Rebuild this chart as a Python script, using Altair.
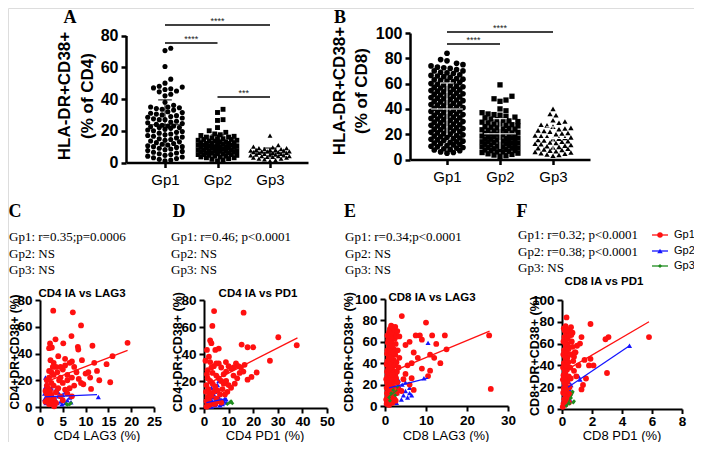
import altair as alt
import pandas as pd

M = 8
W, H = 686, 434
FONT = "Liberation Sans"
SERIF = "Liberation Serif"
RED, BLUE, GREEN = "#ff1010", "#1515ff", "#1e8c1e"


def P(v):
    return v - M

# ---------------- data: panel A (HLA-DR+CD38+ % of CD4) ----------------
A_gp1 = [72, 70.5, 60.5, 52.5, 50, 48, 47.5, 47, 46.5, 46, 45, 44.5, 43, 42, 38, 36, 35, 35,
         34.5, 34, 33.5, 33, 32, 31.5, 31, 30.5, 30, 29.5, 29, 28.5, 28, 27.5, 27, 27, 26, 25.5,
         25, 24.5, 24, 23.5, 23, 23, 22.5, 22, 22, 21.5, 21, 20.5, 20, 19.5, 19, 18.5, 18, 17.5,
         17, 16.5, 16, 15.5, 15, 14.5, 14, 13.5, 13, 12.5, 12, 11.5, 11, 10.5, 10, 10, 9.5, 9,
         8.5, 8, 7.5, 7, 6.5, 6, 5.5, 5, 4.5, 4, 3.5, 3, 2.5, 2, 1.5, 1]
A_gp2 = [33.5, 31.5, 27, 26.5, 22, 20, 19, 18, 17.5, 17, 16.5, 16, 16, 15.5, 15, 15, 14.5,
         14.5, 14, 14, 13.5, 13.5, 13, 13, 12.5, 12.5, 12, 12, 12, 11.5, 11.5, 11, 11, 11, 10.5,
         10.5, 10, 10, 10, 9.5, 9.5, 9, 9, 9, 8.5, 8.5, 8, 8, 8, 7.5, 7.5, 7, 7, 7, 6.5, 6.5, 6,
         6, 6, 5.5, 5.5, 5, 5, 5, 4.5, 4.5, 4, 4, 3.5, 3.5, 3, 3, 2.5, 2, 1.5, 1]
A_gp3 = [17, 11, 10, 9.5, 9, 9, 8.5, 8.5, 8, 8, 8, 7.5, 7.5, 7, 7, 7, 6.5, 6.5, 6, 6, 6, 5.5,
         5.5, 5, 5, 5, 4.5, 4.5, 4, 4, 4, 3.5, 3.5, 3, 3, 2.5, 2.5, 2, 1.5, 1]
A_sig_from = [1, 1, 2]
A_sig_to = [3, 2, 3]
A_sig_y = [86.6, 75.3, 41.3]
A_sig_lab = ["****", "****", "***"]

# ---------------- data: panel B (HLA-DR+CD38+ % of CD8) ----------------
B_gp1 = [84, 79, 78, 76, 75, 74, 73, 72.5, 72, 71, 70, 70, 69, 68.5, 68, 67, 66, 65.5, 65, 64,
         63.5, 63, 62, 61.5, 61, 60, 59.5, 59, 58, 57.5, 57, 56, 55.5, 55, 54, 53.5, 53, 52,
         51.5, 51, 50, 49.5, 49, 48, 47.5, 47, 46, 45.5, 45, 44, 43.5, 43, 42, 41.5, 41, 40,
         39.5, 39, 38, 37.5, 37, 36, 35.5, 35, 34, 33.5, 33, 32, 31.5, 31, 30, 29.5, 29, 28,
         27.5, 27, 26, 25.5, 25, 24, 23.5, 23, 22, 21.5, 21, 20, 19.5, 19, 18, 17.5, 17, 16,
         15.5, 15, 14, 13.5, 13, 12, 11.5, 11, 10, 9.5, 9, 8, 7.5, 7, 6, 5.5, 5,
         66.5, 62.5, 58.5, 54.5, 50.5, 46.5, 42.5, 38.5, 34.5, 30.5, 26.5, 22.5, 18.5, 14.5,
         10.5, 8.5, 12.5, 16.5, 20.5, 24.5, 28.5, 32.5, 36.5, 40.5, 44.5, 48.5, 52.5, 56.5]
B_gp2 = [59, 50, 48, 47, 46, 40, 38.5, 37, 36, 35.5, 35, 34, 33.5, 33, 32, 31.5, 31, 30, 29.5,
         29, 28, 27.5, 27, 26, 25.5, 25, 24.5, 24, 23.5, 23, 22.5, 22, 21.5, 21, 20.5, 20, 19.5,
         19, 18.5, 18, 17.5, 17, 16.5, 16, 15.5, 15, 14.5, 14, 13.5, 13, 12.5, 12, 11.5, 11,
         10.5, 10, 9.5, 9, 8.5, 8, 7.5, 7, 6.5, 6, 5.5, 5, 4.5, 4, 3.5, 3, 2.5,
         30.5, 26.5, 22, 19, 16, 13, 10, 8, 6, 12, 18, 24, 28, 15, 11, 9, 7, 20, 17, 14]
B_gp3 = [40, 36, 35, 31, 30, 29, 27.5, 27, 26, 25, 24.5, 24, 23, 22.5, 22, 21, 20.5, 20, 19,
         18.5, 18, 17.5, 17, 16.5, 16, 15.5, 15, 14.5, 14, 13.5, 13, 12.5, 12, 11.5, 11, 10.5,
         10, 9.5, 9, 8.5, 8, 7.5, 7, 6.5, 6, 5.5, 5, 4.5, 4, 3.5, 3]
B_sig_from = [1, 1]
B_sig_to = [3, 2]
B_sig_y = [100.8, 91.3]
B_sig_lab = ["****", "****"]

# ---------------- data: panel C (CD4 IA vs LAG3) ----------------
C_red = [(2.9, 72), (7.2, 70.8), (9.0, 61), (6.9, 53), (3.4, 50.6), (2.2, 47.5), (2.6, 44.5),
         (2.0, 44), (5.1, 47.6), (8.3, 45), (8.4, 43), (11.5, 45.8), (19.2, 48), (15.9, 38),
         (14.6, 32), (11.9, 33), (9.2, 35), (2.3, 35), (15.4, 18.5), (11.2, 13.5), (10.6, 26),
         (3.1, 0.5), (6.5, 33), (7, 34), (5.5, 31), (7.5, 30), (8, 26), (5, 28), (6, 24),
         (4.5, 22), (6, 20), (7, 22), (9, 18), (8.5, 21), (7.5, 16), (6.5, 14), (9.5, 17),
         (10, 25), (11, 22), (12.5, 27), (13, 20), (4, 38), (4.5, 30), (5.5, 36), (3, 33),
         (3.5, 30), (2.5, 26), (3, 24), (1.5, 20), (2, 22), (2.5, 18), (3, 16), (1.8, 14),
         (2.2, 12), (1.5, 10), (2.5, 9), (3.5, 11), (4, 14), (4.5, 8), (3, 6), (2, 5), (2.5, 3),
         (1.7, 7), (1.2, 12), (1.5, 16), (2, 27), (2.8, 30), (3.8, 26), (4.2, 20), (5, 18),
         (5.5, 13), (6, 10), (7, 8), (5, 5), (3.5, 3), (2, 2), (1.2, 4)]
C_blue = [(1.2, 22), (1.5, 18), (1.2, 15), (1.8, 12), (1, 10), (1.5, 8), (1, 6), (2, 5),
          (2.5, 4), (3, 7), (3.5, 5), (4, 8), (4.5, 4), (5, 6), (5.5, 3), (6, 5), (6.5, 7),
          (4, 11), (3.5, 13), (2.5, 14), (1.3, 3), (2, 9), (3, 2), (5, 9), (12.8, 7.5),
          (5.5, 11), (4.8, 2), (6.8, 3.5), (3.8, 3)]
C_green = [(6.5, 2), (6.0, 1.5), (6.8, 3), (5.8, 2.5)]
C_red_fit = [(2.0, 19.7), (19.2, 42.4)]
C_blue_fit = [(1.0, 7.5), (12.5, 9.2)]
C_green_fit = [(5.5, 2.5), (6.8, 1.8)]

# ---------------- data: panel D (CD4 IA vs PD1) ----------------
D_red = [(4.1, 71.8), (16.1, 70.6), (3.4, 60.8), (2.5, 50), (3, 48), (15.3, 47), (17.7, 45),
         (20, 45), (30.2, 52.4), (37.7, 46.5), (26.8, 35), (1.2, 43), (4.6, 43), (6, 44),
         (8.9, 34), (21.4, 26.3), (17.7, 21), (19.3, 23), (13, 33), (14, 31), (15, 30),
         (16.5, 32), (12, 30), (10, 31), (11, 29), (9, 27), (8, 25), (7, 30), (6, 33), (5, 33),
         (4, 31), (3, 30), (2.5, 34), (2, 38), (1.5, 28), (3.5, 26), (5, 24), (6, 22), (7, 20),
         (8, 18), (9, 20), (10, 17), (11, 15), (12, 24), (14.5, 26), (16, 27), (13.5, 22),
         (12.5, 18), (9.5, 12), (8.5, 10), (7.5, 14), (6.5, 10), (5.5, 13), (4.5, 16),
         (3.5, 18), (2.5, 20), (1.5, 22), (1, 17), (1.8, 14), (2.2, 11), (1.5, 8), (1, 5),
         (2, 6), (3, 9), (4, 12), (5, 7), (6, 5), (7, 4), (3, 3), (2, 2), (1, 1), (4.5, 3),
         (0.8, 12), (1.2, 25), (0.6, 35)]
D_blue = [(6, 20), (5.5, 17), (5, 15), (4.5, 12), (4, 10), (3.5, 8), (3, 6), (2.5, 4), (2, 2),
          (1.5, 5), (1, 3), (1.5, 9), (2, 11), (2.5, 13), (3, 15), (6, 8), (7, 6), (8, 5),
          (9, 4), (7.5, 3), (6.5, 2), (5, 3), (4, 4), (3, 1), (8.5, 7), (9, 6.5), (1, 7),
          (0.8, 1.5), (5.5, 6), (4.5, 2)]
D_green = [(10.5, 4), (11.5, 3.5), (9.5, 3), (11, 5)]
D_red_fit = [(0.5, 17), (38, 52)]
D_blue_fit = [(1, 4), (9, 7)]
D_green_fit = [(9.5, 3.5), (11.5, 4.5)]

# ---------------- data: panel E (CD8 IA vs LAG3) ----------------
E_red = [(0.4, 2), (0.7, 4), (1.0, 1), (1.3, 6), (0.6, 8), (1.8, 3), (2.2, 7), (0.9, 9),
         (1.5, 10), (2.6, 5), (0.3, 6), (1.1, 3), (0.5, 12), (0.8, 15), (1.2, 11), (1.6, 14),
         (2.0, 18), (2.4, 13), (0.4, 17), (1.0, 19), (1.4, 16), (2.8, 12), (3.2, 16), (0.7, 20),
         (1.9, 12), (0.5, 22), (0.9, 25), (1.3, 21), (1.7, 27), (2.1, 23), (2.5, 29), (0.6, 28),
         (1.1, 24), (1.5, 26), (3.0, 22), (2.7, 26), (0.3, 25), (1.9, 29), (0.5, 32), (0.8, 35),
         (1.2, 31), (1.6, 37), (2.0, 33), (2.4, 38), (0.4, 39), (1.0, 34), (1.4, 36), (2.9, 32),
         (3.3, 36), (1.8, 30), (2.2, 39), (0.6, 42), (0.9, 45), (1.3, 41), (1.7, 47), (2.1, 43),
         (2.5, 48), (0.5, 49), (1.1, 44), (1.5, 46), (2.8, 41), (3.5, 45), (1.9, 49), (0.6, 52),
         (1.0, 55), (1.4, 51), (1.8, 57), (2.2, 53), (2.6, 58), (0.7, 59), (1.2, 54), (1.6, 56),
         (3.1, 52), (2.0, 50), (0.8, 62), (1.2, 65), (1.6, 61), (2.0, 67), (2.4, 63), (1.0, 69),
         (1.4, 64), (2.8, 66), (0.6, 66), (1.8, 69), (1.2, 72), (1.8, 74), (2.4, 71), (1.5, 75),
         (2.1, 73), (4.1, 84), (10, 78), (25.4, 66), (25.8, 16), (14.6, 66), (15, 53),
         (12.5, 58), (11.5, 66), (8.5, 66), (7.5, 66), (9, 62), (6, 60), (5, 57), (7, 50),
         (8, 45), (11, 48), (12, 45), (13.5, 40), (11, 33), (10.5, 28), (9, 35), (6.5, 40),
         (5.5, 38), (5, 30), (4.5, 25), (6, 20), (4, 14), (7, 15), (6.5, 26), (3, 70),
         (2.5, 74), (3.5, 65)]
E_blue = [(0.5, 5), (0.8, 10), (1.2, 15), (1.5, 20), (2, 25), (2.5, 8), (3, 12), (3.5, 18),
          (4, 6), (4.5, 10), (5, 14), (5.5, 8), (6, 12), (1, 30), (1.5, 35), (0.7, 40),
          (2.2, 30), (3.3, 24), (4.2, 20), (5, 22), (6.5, 10), (0.3, 2), (1.8, 4), (2.8, 3),
          (10.5, 59), (9.5, 26), (6, 17), (1.2, 45), (0.9, 50)]
E_green = [(1, 8), (1.5, 12), (2, 15), (2.5, 10), (3, 18), (1.2, 5)]
E_red_fit = [(1.0, 31), (25.5, 70)]
E_blue_fit = [(1.0, 17), (10.5, 26)]
E_green_fit = [(1.0, 9), (3.0, 15)]

# ---------------- data: panel F (CD8 IA vs PD1) ----------------
F_red = [(0.3, 84), (1.9, 78), (5.8, 66), (3.1, 66), (2.9, 64), (1.3, 66), (1.2, 60),
         (1.0, 58), (1.5, 45), (1.8, 40), (2.1, 40), (1.9, 46), (3.0, 33), (1.6, 28),
         (1.4, 22), (1.3, 18), (0.9, 52), (0.8, 48), (0.7, 70), (0.6, 75), (0.5, 72),
         (0.05, 2), (0.1, 5), (0.15, 9), (0.2, 4), (0.25, 12), (0.3, 7), (0.08, 15), (0.12, 19),
         (0.18, 14), (0.22, 22), (0.28, 17), (0.35, 25), (0.4, 11), (0.06, 27), (0.1, 31),
         (0.16, 24), (0.21, 33), (0.27, 29), (0.33, 36), (0.45, 30), (0.5, 20), (0.07, 38),
         (0.13, 42), (0.19, 35), (0.24, 45), (0.3, 40), (0.36, 47), (0.42, 43), (0.55, 38),
         (0.09, 50), (0.14, 54), (0.2, 48), (0.26, 57), (0.32, 52), (0.38, 59), (0.44, 55),
         (0.6, 50), (0.1, 62), (0.16, 66), (0.22, 60), (0.28, 69), (0.34, 64), (0.4, 71),
         (0.48, 67), (0.65, 62), (0.12, 74), (0.18, 72), (0.24, 76), (0.3, 73), (0.7, 57),
         (0.75, 44), (0.8, 35), (0.58, 28), (0.52, 14), (0.46, 6), (0.62, 68), (0.85, 52),
         (1.1, 40), (0.95, 30)]
F_blue = [(0.05, 3), (0.1, 8), (0.15, 12), (0.2, 6), (0.25, 16), (0.3, 10), (0.35, 20),
          (0.4, 14), (0.45, 25), (0.5, 18), (0.1, 22), (0.2, 28), (0.3, 33), (0.15, 38),
          (0.25, 42), (0.55, 8), (1.2, 27), (1.1, 30), (4.5, 58), (0.45, 20), (0.6, 22)]
F_green = [(0.5, 5), (0.6, 10), (0.7, 16), (0.8, 7), (0.75, 6), (0.3, 3)]
F_red_fit = [(0.2, 35), (5.8, 80)]
F_blue_fit = [(0.4, 20), (4.5, 58)]
F_green_fit = [(0.3, 3), (0.8, 16)]


# ---------------- helpers ----------------
def xs(dom, a, b):
    return alt.Scale(domain=dom, range=[P(a), P(b)], nice=False, zero=False)


def ys(dom, bottom, top):
    return alt.Scale(domain=dom, range=[P(bottom), P(top)], nice=False, zero=False)


def xaxis(at_y, values, fs, bold, expr=None, tick=5, dw=2, pad=3):
    kw = dict(orient="bottom", offset=P(at_y) - H, values=values, title=None, grid=False,
              domainColor="black", domainWidth=dw, tickColor="black", tickWidth=dw,
              tickSize=tick, labelColor="black", labelFont=FONT, labelFontSize=fs,
              labelFontWeight="bold" if bold else "normal", labelPadding=pad, labelAngle=0,
              labelFlush=False, labelOverlap=False)
    if expr:
        kw["labelExpr"] = expr
    return alt.Axis(**kw)


def yaxis(at_x, values, fs, tick=5, dw=2, pad=3):
    return alt.Axis(orient="left", offset=-P(at_x), values=values, title=None, grid=False,
                    domainColor="black", domainWidth=dw, tickColor="black", tickWidth=dw,
                    tickSize=tick, labelColor="black", labelFont=FONT, labelFontSize=fs,
                    labelFontWeight="bold", labelPadding=pad, labelFlush=False,
                    labelOverlap=False)


def txt(s, x, y, size, font=FONT, weight="normal", align="center", angle=0,
        line_height=None):
    kw = dict(text=s, font=font, fontSize=size, fontWeight=weight, align=align,
              baseline="middle", color="black", angle=angle)
    if line_height:
        kw.update(lineBreak="\n", lineHeight=line_height)
    return alt.Chart(pd.DataFrame({"d": [0]})).mark_text(**kw).encode(
        x=alt.value(P(x)), y=alt.value(P(y)))


def swarm(vals, ppu_x, ppu_y, d, maxw):
    """Deterministic dot-plot spreading: nearest free slot, capped at +-maxw px."""
    order = sorted(range(len(vals)), key=lambda i: vals[i])
    placed = []
    offs = [0.0] * len(vals)
    step = d * 0.5
    cands = [0.0]
    j = 1
    while j * step <= maxw:
        cands += [j * step, -j * step]
        j += 1
    for i in order:
        yv = vals[i] * ppu_y
        near = [(a, b) for a, b in placed if abs(b - yv) < d]
        best, bestd = cands[0], -1
        chosen = None
        for c in cands:
            md = min([((c - a) ** 2 + (yv - b) ** 2) for a, b in near] or [1e9])
            if md >= 0.9 * d * d:
                chosen = c
                break
            if md > bestd:
                best, bestd = c, md
        if chosen is None:
            chosen = best
        placed.append((chosen, yv))
        offs[i] = chosen / ppu_x
    return offs


layers = []


def dot_panel(vals_list, shapes, sizes, xsc, ysc, xax, yax, ppu_x, ppu_y, sig, mean_color,
              maxw):
    first = True
    for k, (vals, shp, size) in enumerate(zip(vals_list, shapes, sizes)):
        d = 2 * (size / 3.14159) ** 0.5
        offs = swarm(vals, ppu_x, ppu_y, d, maxw)
        df = pd.DataFrame({"x": [k + 1 + o for o in offs], "y": vals})
        layers.append(alt.Chart(df).mark_point(shape=shp, filled=True, color="black",
                                               size=size, opacity=1).encode(
            x=alt.X("x:Q", scale=xsc, axis=xax if first else None),
            y=alt.Y("y:Q", scale=ysc, axis=yax if first else None)))
        first = False
        n = len(vals)
        mu = sum(vals) / n
        sd = (sum((v - mu) ** 2 for v in vals) / (n - 1)) ** 0.5
        eb = pd.DataFrame({"x": [k + 1 - 0.3, k + 1 - 0.13, k + 1],
                           "x2": [k + 1 + 0.3, k + 1 + 0.13, k + 1],
                           "y": [mu, mu + sd, max(mu - sd, 0)],
                           "y2": [mu, mu + sd, mu + sd]})
        layers.append(alt.Chart(eb).mark_rule(color=mean_color, strokeWidth=1.0).encode(
            x=alt.X("x:Q", scale=xsc, axis=None), x2="x2:Q",
            y=alt.Y("y:Q", scale=ysc, axis=None), y2="y2:Q"))
    fr, to, yy, lab = sig
    sdf = pd.DataFrame({"x": fr, "x2": to, "y": yy, "lab": lab,
                        "xm": [(a + b) / 2 for a, b in zip(fr, to)]})
    layers.append(alt.Chart(sdf).mark_rule(color="black", strokeWidth=1.5).encode(
        x=alt.X("x:Q", scale=xsc, axis=None), x2="x2:Q",
        y=alt.Y("y:Q", scale=ysc, axis=None)))
    layers.append(alt.Chart(sdf).mark_text(font=FONT, fontSize=9, color="#222222",
                                           baseline="alphabetic", dy=-1).encode(
        x=alt.X("xm:Q", scale=xsc, axis=None),
        y=alt.Y("y:Q", scale=ysc, axis=None), text="lab:N"))


# ---- panel A ----
ppuAx = 52.5
ax_dom = [1 - (165 - 126) / ppuAx, 3 + (308 - 270) / ppuAx]
dot_panel([A_gp1, A_gp2, A_gp3], ["circle", "square", "triangle-up"], [26, 24, 24],
          xs(ax_dom, 126, 308), ys([0, 80], 162.5, 35.5),
          xaxis(162.5, [1, 2, 3], 15, False, "'Gp' + datum.value", tick=5, dw=2.5, pad=5),
          yaxis(126, [0, 20, 40, 60, 80], 16, tick=5, dw=2.5, pad=3),
          ppuAx, 127 / 80, (A_sig_from, A_sig_to, A_sig_y, A_sig_lab), "black", 20)

# ---- panel B ----
ppuBx = 53
bx_dom = [1 - (447 - 410) / ppuBx, 3 + (590 - 553) / ppuBx]
dot_panel([B_gp1, B_gp2, B_gp3], ["circle", "square", "triangle-up"], [32, 28, 28],
          xs(bx_dom, 410, 590), ys([0, 100], 159.5, 33),
          xaxis(159.5, [1, 2, 3], 15, False, "'Gp' + datum.value", tick=5, dw=2.5, pad=5),
          yaxis(410, [0, 20, 40, 60, 80, 100], 16, tick=5, dw=2.5, pad=3),
          ppuBx, 126.5 / 100, (B_sig_from, B_sig_to, B_sig_y, B_sig_lab), "white", 19)


# ---- scatter panels ----
def scatter_panel(red, blue, green, fits, xsc, ysc, xax, yax):
    first = True
    for pts, shp, col, size in [(blue, "triangle-up", BLUE, 26), (red, "circle", RED, 34),
                                (green, "diamond", GREEN, 16)]:
        df = pd.DataFrame(pts, columns=["x", "y"])
        layers.append(alt.Chart(df).mark_point(shape=shp, filled=True, color=col, size=size,
                                               opacity=1).encode(
            x=alt.X("x:Q", scale=xsc, axis=xax if first else None),
            y=alt.Y("y:Q", scale=ysc, axis=yax if first else None)))
        first = False
    for f, col in zip(fits, [RED, BLUE, GREEN]):
        df = pd.DataFrame(f, columns=["x", "y"])
        layers.append(alt.Chart(df).mark_line(color=col, strokeWidth=1.3).encode(
            x=alt.X("x:Q", scale=xsc, axis=None), y=alt.Y("y:Q", scale=ysc, axis=None)))


LF = 13.5
scatter_panel(C_red, C_blue, C_green, [C_red_fit, C_blue_fit, C_green_fit],
              xs([0, 25], 40, 154), ys([0, 80], 407, 300),
              xaxis(407, [0, 5, 10, 15, 20, 25], LF, True, pad=2),
              yaxis(40, [0, 20, 40, 60, 80], LF))
scatter_panel(D_red, D_blue, D_green, [D_red_fit, D_blue_fit, D_green_fit],
              xs([0, 50], 204, 327), ys([0, 80], 408, 300),
              xaxis(408, [0, 10, 20, 30, 40, 50], LF, True, pad=1.5),
              yaxis(204, [0, 20, 40, 60, 80], LF))
scatter_panel(E_red, E_blue, E_green, [E_red_fit, E_blue_fit, E_green_fit],
              xs([0, 30], 385, 508), ys([0, 100], 406, 299),
              xaxis(406, [0, 10, 20, 30], LF, True, pad=2),
              yaxis(385, [0, 20, 40, 60, 80, 100], LF))
scatter_panel(F_red, F_blue, F_green, [F_red_fit, F_blue_fit, F_green_fit],
              xs([0, 8], 562, 682), ys([0, 100], 409, 300),
              xaxis(409, [0, 2, 4, 6, 8], LF, True, tick=4.5, pad=1),
              yaxis(562, [0, 20, 40, 60, 80, 100], LF))

# ---- texts ----
LH = 16.5
XT = 436
layers += [
    txt("A", 70, 18, 18, SERIF, "bold"), txt("B", 340, 18, 18, SERIF, "bold"),
    txt("C", 15, 212, 18, SERIF, "bold"), txt("D", 179, 212, 18, SERIF, "bold"),
    txt("E", 350, 212, 18, SERIF, "bold"), txt("F", 522, 212, 18, SERIF, "bold"),
    txt("HLA-DR+CD38+", 65, 96, 17, FONT, "bold", angle=270),
    txt("(% of CD4)", 88, 96, 17, FONT, "bold", angle=270),
    txt("HLA-DR+CD38+", 340, 91, 17, FONT, "bold", angle=270),
    txt("(% of CD8)", 362, 91, 17, FONT, "bold", angle=270),
    txt("Gp1: r=0.35;p=0.0006\nGp2: NS\nGp3: NS", 9, 237, 13, SERIF, align="left",
        line_height=LH),
    txt("Gp1: r=0.46; p<0.0001\nGp2: NS\nGp3: NS", 171, 237, 13, SERIF, align="left",
        line_height=LH),
    txt("Gp1: r=0.34;p<0.0001\nGp2: NS\nGp3: NS", 345, 237, 13, SERIF, align="left",
        line_height=LH),
    txt("Gp1: r=0.32; p<0.0001\nGp2: r=0.38; p<0.0001\nGp3: NS", 518, 235, 13, SERIF,
        align="left", line_height=LH),
    txt("CD4 IA vs LAG3", 82, 294, 11.5, FONT, "bold"),
    txt("CD4 IA vs PD1", 258, 294, 11.5, FONT, "bold"),
    txt("CD8 IA vs LAG3", 432, 298, 11.5, FONT, "bold"),
    txt("CD8 IA vs PD1", 604, 282, 11.5, FONT, "bold"),
    txt("CD4+DR+CD38+ (%)", 15, 352, 12, FONT, "bold", angle=270),
    txt("CD4+DR+CD38+ (%)", 178, 352, 12.5, FONT, "bold", angle=270),
    txt("CD8+DR+CD38+ (%)", 349, 352, 12.5, FONT, "bold", angle=270),
    txt("CD8+DR+CD38+ (%)", 535, 356, 12.5, FONT, "bold", angle=270),
    txt("CD4 LAG3 (%)", 97, XT, 13), txt("CD4 PD1 (%)", 265, XT, 13),
    txt("CD8 LAG3 (%)", 446, XT, 13), txt("CD8 PD1 (%)", 622, XT, 13),
]

# ---- manual legend (panel F) ----
leg_groups = ["Gp1", "Gp2", "Gp3"]
leg_cols = [RED, BLUE, GREEN]
leg_shapes = ["circle", "triangle-up", "diamond"]
leg_y = [235, 251, 266]
for g, c, s, yy in zip(leg_groups, leg_cols, leg_shapes, leg_y):
    d0 = pd.DataFrame({"d": [0]})
    layers.append(alt.Chart(d0).mark_rule(color=c, strokeWidth=1.3).encode(
        x=alt.value(P(652)), x2=alt.value(P(668)), y=alt.value(P(yy))))
    layers.append(alt.Chart(d0).mark_point(shape=s, filled=True, color=c, opacity=1,
                                           size=30 if s != "diamond" else 16).encode(
        x=alt.value(P(660)), y=alt.value(P(yy))))
    layers.append(txt(g, 674, yy, 11, FONT, align="left"))

chart = alt.layer(*layers).resolve_scale(x="independent", y="independent").resolve_axis(
    x="independent", y="independent").properties(
    width=W, height=H, padding=0, autosize=alt.AutoSizeParams(type="none")
).configure_view(stroke=None).configure(background="white")

chart.save("out.html", embed_options={"renderer": "svg", "actions": False})
